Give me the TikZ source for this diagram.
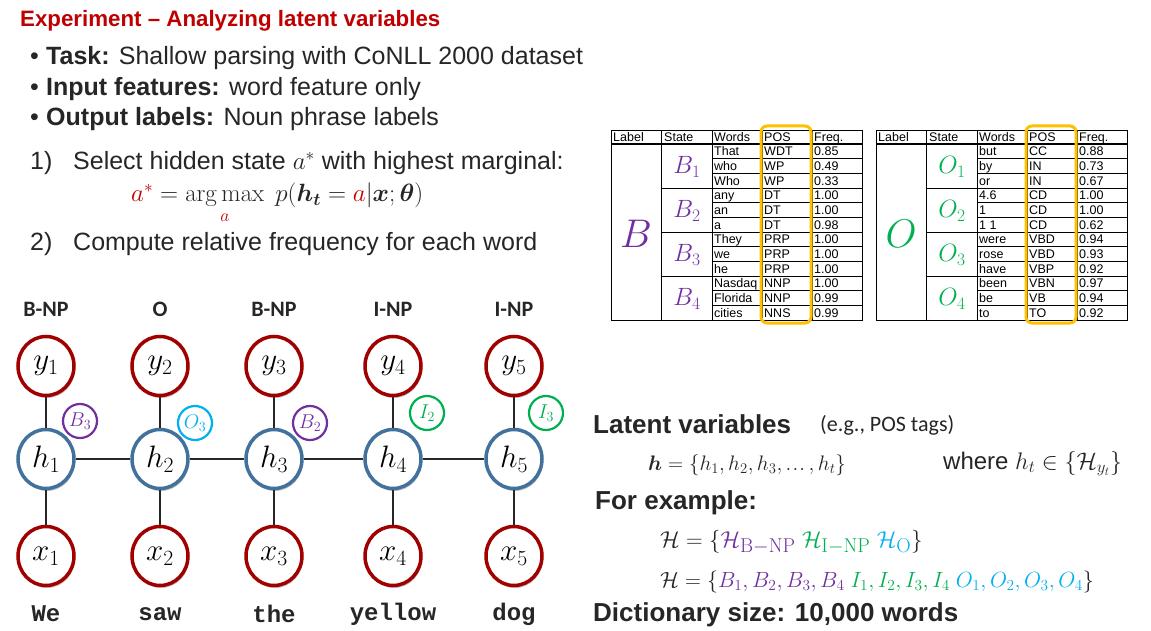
\RequirePackage{fix-cm}
\documentclass[tikz,border=0pt]{standalone}
\usepackage{amsmath,bm}
\usepackage[no-math]{fontspec}
\setmainfont{Liberation Sans}
\newfontfamily\carlito{Carlito}
\newfontfamily\monofam{Liberation Mono}
\usetikzlibrary{shapes.geometric,shadows}
\definecolor{titlered}{HTML}{C00000}
\definecolor{nodered}{HTML}{A00000}
\definecolor{nodeblue}{HTML}{41719C}
\definecolor{ppurple}{HTML}{7030A0}
\definecolor{pgreen}{HTML}{00B050}
\definecolor{pcyan}{HTML}{00B0F0}
\definecolor{porange}{HTML}{FFC000}
\definecolor{textgray}{HTML}{262626}
\newcommand\bigsub[1]{\text{\fontsize{20}{20}\selectfont$\mathrm{#1}$}}
\newcommand\tightdots{\mathinner{\ldotp\mkern-2mu\ldotp\mkern-2mu\ldotp}}
\tikzset{
  txt/.style={anchor=base west, inner sep=0pt, text=textgray},
  bigtxt/.style={txt, font=\fontsize{25}{30}\selectfont},
  headtxt/.style={txt, font=\fontsize{26}{30}\selectfont\bfseries},
  varnode/.style={ellipse, draw=#1, line width=3.5pt, fill=white, minimum width=56pt, minimum height=59pt, inner sep=0pt,
    font=\fontsize{31}{31}\selectfont, drop shadow={shadow xshift=1pt, shadow yshift=-2.5pt, opacity=0.25, fill=black}},
  statecirc/.style={circle, draw=#1, line width=2.2pt, minimum size=34pt, inner sep=0pt, text=#1, font=\fontsize{20}{20}\selectfont},
  edge/.style={draw=textgray, line width=2.8pt},
  tag/.style={inner sep=0pt, text=textgray, font=\carlito\fontsize{22}{24}\selectfont\bfseries},
  word/.style={inner sep=0pt, text=textgray, font=\monofam\fontsize{24}{24}\selectfont\bfseries},
  tabline/.style={draw=black, line width=0.7pt},
  cell/.style={anchor=base west, inner sep=0pt, text=black, font=\fontsize{12.5}{12.5}\selectfont},
  orangebox/.style={draw=porange, line width=3pt, rounded corners=6pt},
}
\newcommand\postable[5]{%
  \begin{scope}[xshift=#2]
    \draw[tabline] (611,130) rectangle (862,320);
    \foreach \xx in {661,712,762,812} \draw[tabline] (\xx,130) -- (\xx,320);
    \draw[tabline, line width=1.5pt] (611,144) -- (862,144);
    \foreach \k in {1,...,11} {\pgfmathsetmacro\yy{144+14.667*\k}\draw[tabline] (712,\yy) -- (862,\yy);}
    \foreach \k in {3,6,9} {\pgfmathsetmacro\yy{144+14.667*\k}\draw[tabline] (661,\yy) -- (862,\yy);}
    \node[cell] (#1hl) at (613,141.5) {Label};
    \node[cell] (#1hs) at (664,141.5) {State};
    \node[cell] (#1hw) at (714,141.5) {Words};
    \node[cell] (#1hp) at (764,141.5) {POS};
    \node[cell] (#1hf) at (814,141.5) {Freq.};
    \foreach \cw/\cp/\cf [count=\r from 0] in {#5} {%
      \pgfmathsetmacro\yy{144+14.667*(\r+0.5)+4.4}
      \node[cell] (#1w\r) at (714,\yy) {\cw};
      \node[cell] (#1p\r) at (764,\yy) {\cp};
      \node[cell] (#1f\r) at (814,\yy) {\cf};
    }
    \node[inner sep=0pt, text=#4, font=\fontsize{40}{40}\selectfont] (#1L) at (636,234) {$#3$};
    \foreach \g in {1,...,4} {%
      \pgfmathsetmacro\yy{144+44*(\g-1)+23}
      \node[inner sep=0pt, text=#4, font=\fontsize{25}{25}\selectfont] (#1S\g) at (687,\yy) {$#3_{\g}$};
    }
    \draw[orangebox] (761,126) rectangle (811,323);
  \end{scope}}
\begin{document}
\begin{tikzpicture}[x=1pt,y=-1pt]
\fill[white] (0,0) rectangle (1151,631);
\useasboundingbox (0,0) rectangle (1151,631);

% title and bullets
\node[txt, text=titlered, font=\fontsize{22.3}{26}\selectfont\bfseries] (title) at (20,27) {Experiment – Analyzing latent variables};
\node[bigtxt] (b1) at (30,65) {\makebox[16pt][l]{•}\textbf{Task:} Shallow parsing with CoNLL 2000 dataset};
\node[bigtxt] (b2) at (30,96) {\makebox[16pt][l]{•}\textbf{Input features:} word feature only};
\node[bigtxt] (b3) at (30,126) {\makebox[16pt][l]{•}\textbf{Output labels:} Noun phrase labels};
\node[bigtxt] (n1) at (30,170) {1)};
\node[bigtxt] (s1) at (73,170) {Select hidden state $a^{*}$ with highest marginal:};
\node[txt, font=\fontsize{25}{30}\selectfont] (f1) at (131,202)
  {${\color{titlered}a^{*}} = \mathop{\mathrm{arg\,max}}\limits_{\color{titlered}a}\; p(\bm{h_t} = {\color{titlered}a} | \bm{x}; \bm{\theta})$};
\node[bigtxt] (n2) at (30,251) {2)};
\node[bigtxt] (s2) at (73,251) {Compute relative frequency for each word};

% graph
\foreach \i/\xx/\tg/\wrd in {1/46/B-NP/We, 2/160/O/saw, 3/274/B-NP/the, 4/393/I-NP/yellow, 5/514/I-NP/dog} {
  \node[tag] (t\i) at (\xx,309) {\tg};
  \node[varnode=nodered] (y\i) at (\xx,366) {$y_{\i}$};
  \node[varnode=nodeblue] (h\i) at (\xx,459) {$h_{\i}$};
  \node[varnode=nodered] (x\i) at (\xx,556) {$x_{\i}$};
  \node[word] (w\i) at (\xx,614) {\wrd};
}
\foreach \i in {1,...,5} {\draw[edge] (y\i) -- (h\i); \draw[edge] (h\i) -- (x\i);}
\foreach \i/\j in {1/2,2/3,3/4,4/5} {\draw[edge] (h\i) -- (h\j);}
\node[statecirc=ppurple] (c1) at (80,421) {$B_3$};
\node[statecirc=pcyan] (c2) at (195,423) {$O_3$};
\node[statecirc=ppurple] (c3) at (310,423) {$B_2$};
\node[statecirc=pgreen] (c4) at (427,413) {$I_2$};
\node[statecirc=pgreen] (c5) at (546,413) {$I_3$};

% tables
\postable{L}{0pt}{B}{ppurple}{That/WDT/0.85, who/WP/0.49, Who/WP/0.33, any/DT/1.00, an/DT/1.00, a/DT/0.98, They/PRP/1.00, we/PRP/1.00, he/PRP/1.00, Nasdaq/NNP/1.00, Florida/NNP/0.99, cities/NNS/0.99}
\postable{R}{265pt}{O}{pgreen}{but/CC/0.88, by/IN/0.73, or/IN/0.67, 4.6/CD/1.00, 1/CD/1.00, 1 1/CD/0.62, were/VBD/0.94, rose/VBD/0.93, have/VBP/0.92, been/VBN/0.97, be/VB/0.94, to/TO/0.92}

% right text
\node[headtxt] (lv) at (593,433) {Latent variables};
\node[txt, font=\carlito\fontsize{22}{24}\selectfont] (eg) at (820,431) {(e.g., POS tags)};
\node[txt, font=\fontsize{21}{26}\selectfont] (hset) at (648,470) {$\bm{h} = \{h_1, h_2, h_3, \tightdots, h_t\}$};
\node[txt, font=\fontsize{24}{28}\selectfont] (where) at (943,469) {where $h_t \in \{\mathcal{H}_{y_t}\}$};
\node[headtxt] (fe) at (595,509) {For example:};
\node[txt, font=\fontsize{23}{26}\selectfont] (H1) at (660,547)
  {$\mathcal{H} = \{{\color{ppurple}\mathcal{H}_{\bigsub{B{-}NP}}}\ {\color{pgreen}\mathcal{H}_{\bigsub{I{-}NP}}}\ {\color{pcyan}\mathcal{H}_{\bigsub{O}}}\}$};
\node[txt, font=\fontsize{22}{26}\selectfont] (H2) at (660,587)
  {$\mathcal{H} = \{{\color{ppurple}B_1, B_2, B_3, B_4}\ {\color{pgreen}I_1, I_2, I_3, I_4}\ {\color{pcyan}O_1, O_2, O_3, O_4}\}$};
\node[headtxt] (dict) at (593,621) {Dictionary size: 10,000 words};
\end{tikzpicture}
\end{document}
